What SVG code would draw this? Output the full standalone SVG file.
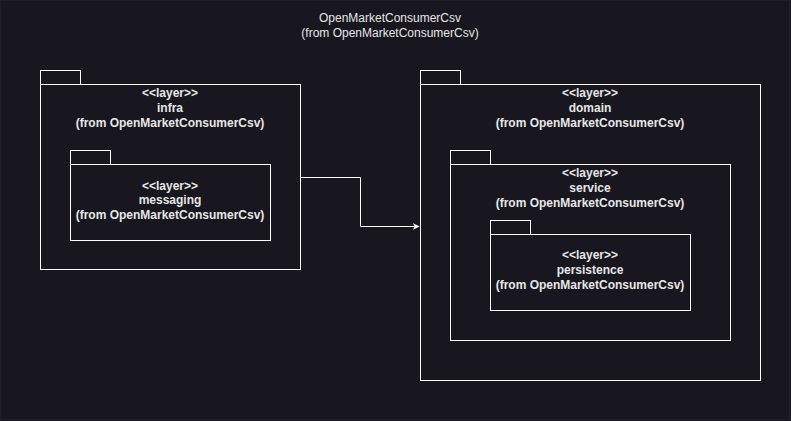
<svg xmlns="http://www.w3.org/2000/svg" width="791" height="421" viewBox="0 0 791 421">
<style>
.pk{fill:#18161f;stroke:#ffffff;stroke-width:1}
.t{font-family:"Liberation Sans",Arial,sans-serif;font-size:12px;fill:#e6e6e6;text-anchor:middle}
.b{font-weight:bold}
.c{fill:none;stroke:#ffffff;stroke-width:1}
</style>
<defs>
<marker id="ah" viewBox="0 0 10 10" refX="9" refY="5" markerWidth="7" markerHeight="7" orient="auto" markerUnits="userSpaceOnUse">
<path d="M0,0 L10,5 L0,10 L3,5 Z" fill="#ffffff"/>
</marker>
</defs>
<rect x="0" y="0" width="791" height="421" fill="#18161f"/>
<g id="root">
<rect x="0.5" y="0.5" width="789" height="419" fill="none" stroke="#201e27"/>
<text class="t" x="390" y="22">OpenMarketConsumerCsv</text>
<text class="t" x="390" y="37">(from OpenMarketConsumerCsv)</text>
</g>
<g id="infra">
<rect class="pk" x="40.5" y="70.5" width="40" height="14"/>
<rect class="pk" x="40.5" y="84.5" width="260" height="185"/>
<text class="t b" x="170" y="97">&lt;&lt;layer&gt;&gt;</text>
<text class="t b" x="170" y="112">infra</text>
<text class="t b" x="170" y="127">(from OpenMarketConsumerCsv)</text>
</g>
<g id="messaging">
<rect class="pk" x="70.5" y="150.5" width="40" height="14"/>
<rect class="pk" x="70.5" y="164.5" width="200" height="76"/>
<text class="t b" x="170" y="190">&lt;&lt;layer&gt;&gt;</text>
<text class="t b" x="170" y="204">messaging</text>
<text class="t b" x="170" y="219">(from OpenMarketConsumerCsv)</text>
</g>
<g id="domain">
<rect class="pk" x="420.5" y="70.5" width="40" height="14"/>
<rect class="pk" x="420.5" y="84.5" width="340" height="296"/>
<text class="t b" x="590" y="97">&lt;&lt;layer&gt;&gt;</text>
<text class="t b" x="590" y="112">domain</text>
<text class="t b" x="590" y="127">(from OpenMarketConsumerCsv)</text>
</g>
<g id="service">
<rect class="pk" x="450.5" y="150.5" width="40" height="14"/>
<rect class="pk" x="450.5" y="164.5" width="280" height="176"/>
<text class="t b" x="590" y="177">&lt;&lt;layer&gt;&gt;</text>
<text class="t b" x="590" y="192">service</text>
<text class="t b" x="590" y="207">(from OpenMarketConsumerCsv)</text>
</g>
<g id="persistence">
<rect class="pk" x="490.5" y="220.5" width="40" height="14"/>
<rect class="pk" x="490.5" y="234.5" width="200" height="76"/>
<text class="t b" x="590" y="259">&lt;&lt;layer&gt;&gt;</text>
<text class="t b" x="590" y="274">persistence</text>
<text class="t b" x="590" y="289">(from OpenMarketConsumerCsv)</text>
</g>
<g id="connectors">
<path class="c" d="M300.5,177.5 H360.5 V226.5 H419" marker-end="url(#ah)"/>
</g>
</svg>
